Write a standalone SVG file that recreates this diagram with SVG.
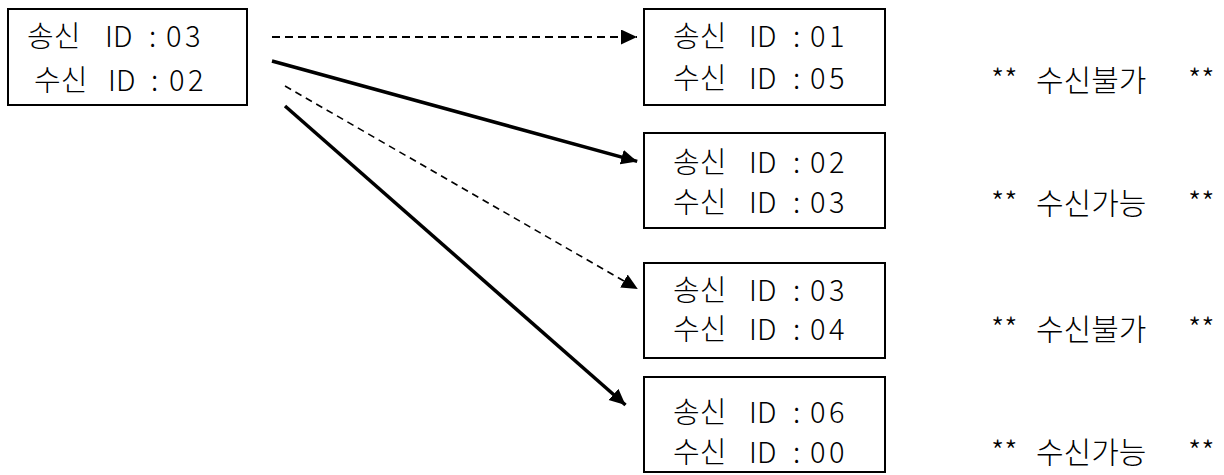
<svg xmlns="http://www.w3.org/2000/svg" width="1224" height="475" viewBox="0 0 1224 475">
  <style>
    .box { fill: #fff; stroke: #000; stroke-width: 2; }
    .t { font-family: "Noto Sans CJK KR", "Noto Sans", sans-serif; font-size: 29px; font-weight: 300; fill: #000; }
    .lbl { font-size: 30px; }
    .solid { stroke: #000; stroke-width: 3.5; fill: none; }
    .dash1 { stroke: #000; stroke-width: 2; fill: none; stroke-dasharray: 8 5; }
    .dash2 { stroke: #000; stroke-width: 1.6; fill: none; stroke-dasharray: 7 5; }
  </style>
  <defs>
    <marker id="arrow" markerUnits="userSpaceOnUse" markerWidth="18" markerHeight="16" refX="16" refY="7.5" orient="auto">
      <path d="M0,0 L16,7.5 L0,15 z" fill="#000"/>
    </marker>
  </defs>

  <rect width="1224" height="475" fill="#fff"/>

  <g id="src">
    <rect class="box" x="8" y="9" width="239" height="96"/>
    <text class="t" y="47"><tspan x="27">송신</tspan><tspan x="105">ID</tspan><tspan x="149">:</tspan><tspan x="166">0</tspan><tspan x="185">3</tspan></text>
    <text class="t" y="91"><tspan x="34">수신</tspan><tspan x="108">ID</tspan><tspan x="151">:</tspan><tspan x="169">0</tspan><tspan x="188">2</tspan></text>
  </g>

  <g id="n1">
    <rect class="box" x="644" y="9" width="241" height="96"/>
    <text class="t" y="47"><tspan x="673">송신</tspan><tspan x="749">ID</tspan><tspan x="793">:</tspan><tspan x="810">0</tspan><tspan x="829">1</tspan></text>
    <text class="t" y="89"><tspan x="673">수신</tspan><tspan x="749">ID</tspan><tspan x="793">:</tspan><tspan x="810">0</tspan><tspan x="829">5</tspan></text>
  </g>

  <g id="n2">
    <rect class="box" x="644" y="133" width="241" height="95"/>
    <text class="t" y="173"><tspan x="673">송신</tspan><tspan x="749">ID</tspan><tspan x="793">:</tspan><tspan x="810">0</tspan><tspan x="829">2</tspan></text>
    <text class="t" y="213"><tspan x="673">수신</tspan><tspan x="749">ID</tspan><tspan x="793">:</tspan><tspan x="810">0</tspan><tspan x="829">3</tspan></text>
  </g>

  <g id="n3">
    <rect class="box" x="644" y="263" width="241" height="95"/>
    <text class="t" y="301"><tspan x="673">송신</tspan><tspan x="749">ID</tspan><tspan x="793">:</tspan><tspan x="810">0</tspan><tspan x="829">3</tspan></text>
    <text class="t" y="340"><tspan x="673">수신</tspan><tspan x="749">ID</tspan><tspan x="793">:</tspan><tspan x="810">0</tspan><tspan x="829">4</tspan></text>
  </g>

  <g id="n4">
    <rect class="box" x="644" y="377" width="241" height="95"/>
    <text class="t" y="423"><tspan x="673">송신</tspan><tspan x="749">ID</tspan><tspan x="793">:</tspan><tspan x="810">0</tspan><tspan x="829">6</tspan></text>
    <text class="t" y="463"><tspan x="673">수신</tspan><tspan x="749">ID</tspan><tspan x="793">:</tspan><tspan x="810">0</tspan><tspan x="829">0</tspan></text>
  </g>

  <g id="labels">
    <text class="t lbl" y="91"><tspan x="991">**</tspan><tspan x="1036">수신불가</tspan><tspan x="1188">**</tspan></text>
    <text class="t lbl" y="214"><tspan x="991">**</tspan><tspan x="1036">수신가능</tspan><tspan x="1188">**</tspan></text>
    <text class="t lbl" y="340"><tspan x="991">**</tspan><tspan x="1036">수신불가</tspan><tspan x="1188">**</tspan></text>
    <text class="t lbl" y="463"><tspan x="991">**</tspan><tspan x="1036">수신가능</tspan><tspan x="1188">**</tspan></text>
  </g>

  <g id="connectors">
    <line class="dash1" x1="272" y1="37" x2="637" y2="37" marker-end="url(#arrow)"/>
    <line class="solid" x1="272" y1="61" x2="637.2" y2="161.4" marker-end="url(#arrow)"/>
    <line class="dash2" x1="285" y1="86" x2="637.8" y2="289" marker-end="url(#arrow)"/>
    <line class="solid" x1="285" y1="106" x2="625.5" y2="405" marker-end="url(#arrow)"/>
  </g>
</svg>
